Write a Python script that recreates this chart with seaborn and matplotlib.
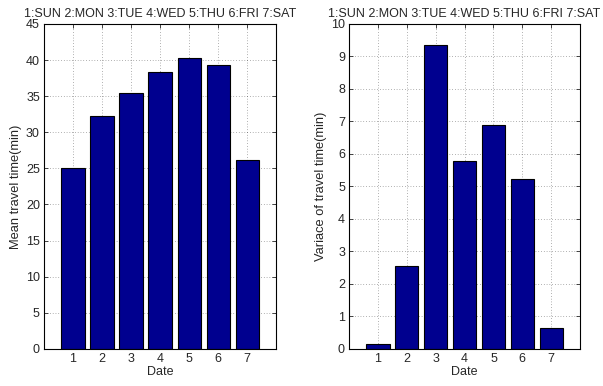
import matplotlib
matplotlib.use("Agg")
import matplotlib.pyplot as plt
import seaborn as sns
import pandas as pd

days = [1, 2, 3, 4, 5, 6, 7]
mean_time = [25.1, 32.2, 35.4, 38.3, 40.3, 39.3, 26.1]
var_time = [0.15, 2.55, 9.35, 5.78, 6.88, 5.22, 0.65]
title = "1:SUN 2:MON 3:TUE 4:WED 5:THU 6:FRI 7:SAT"

sns.set_style("white")
plt.rcParams['font.family'] = ['Liberation Sans', 'DejaVu Sans']

fig = plt.figure(figsize=(6.03, 3.86), dpi=100)
ax1 = fig.add_axes([0.073, 0.096, 0.385, 0.842])
ax2 = fig.add_axes([0.579, 0.096, 0.383, 0.842])

bar_color = "#00008f"

def draw(ax, vals, ylabel, ymax, yticks):
    df = pd.DataFrame({"Date": days, "v": vals})
    sns.barplot(data=df, x="Date", y="v", native_scale=True, color=bar_color,
                saturation=1, edgecolor="black", linewidth=0.8, width=0.8, ax=ax,
                zorder=2)
    ax.set_xlim(0, 8)
    ax.set_ylim(0, ymax)
    ax.set_xticks(days)
    ax.set_yticks(yticks)
    ax.tick_params(direction="in", length=3, labelsize=9, width=0.6,
                   top=True, right=True, bottom=True, left=True, pad=3)
    ax.grid(True, linestyle=(0, (1, 3)), color="black", linewidth=0.5, alpha=0.6)
    ax.set_axisbelow(True)
    for s in ax.spines.values():
        s.set_color("black")
        s.set_linewidth(0.8)
        s.set_visible(True)
    ax.set_xlabel("Date", fontsize=9, labelpad=1)
    ax.set_ylabel(ylabel, fontsize=9.3, labelpad=3)
    ax.set_title(title, fontsize=9, pad=5)

draw(ax1, mean_time, "Mean travel time(min)", 45, list(range(0, 46, 5)))
draw(ax2, var_time, "Variace of travel time(min)", 10, list(range(0, 11)))

fig.savefig("out.png", dpi=100)
